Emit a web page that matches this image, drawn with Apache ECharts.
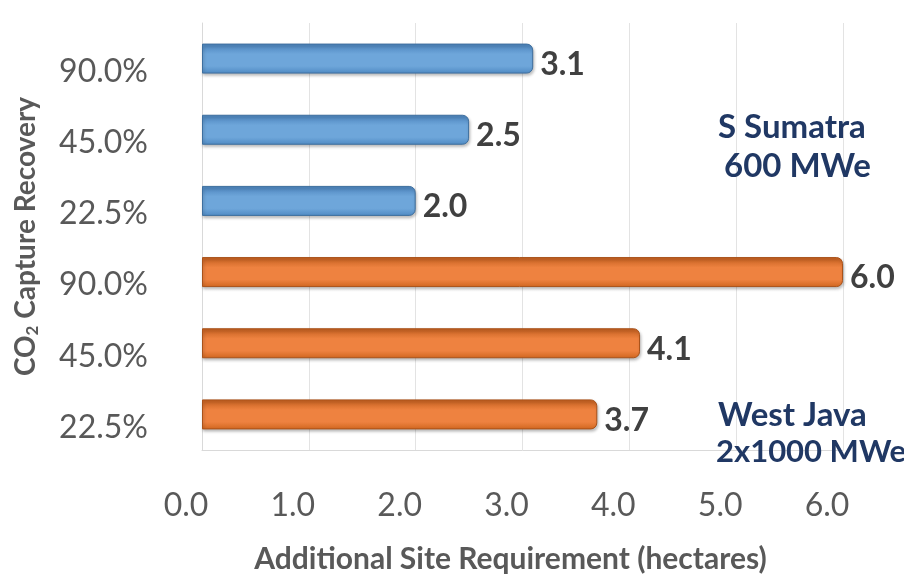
<!DOCTYPE html>
<html>
<head>
<meta charset="utf-8">
<script src="https://cdn.jsdelivr.net/npm/echarts@6/dist/echarts.min.js"></script>
<style>
html,body{margin:0;padding:0;background:#fff;}
#chart{width:904px;height:579px;}
</style>
</head>
<body>
<div id="chart"></div>
<script>
// Categories bottom -> top (West Java first, then S Sumatra)
const categories = ['22.5%', '45.0%', '90.0%', '22.5%', '45.0%', '90.0%'];
const westJava = [3.7, 4.1, 6.0, null, null, null];
const sSumatra = [null, null, null, 2.0, 2.5, 3.1];
const xTicks = [0, 1, 2, 3, 4, 5, 6];

const FONT = 'Lato, "Open Sans", sans-serif';

const chart = echarts.init(document.getElementById('chart'), null, {renderer: 'canvas'});

function barStyle(top, mid, bot, border) {
  return {
    color: new echarts.graphic.LinearGradient(0, 0, 0, 1, [
      {offset: 0, color: top},
      {offset: 0.35, color: mid},
      {offset: 0.75, color: mid},
      {offset: 1, color: bot}
    ]),
    borderColor: border,
    borderWidth: 1,
    borderRadius: [0, 6, 6, 0],
    shadowColor: 'rgba(0,0,0,0.25)',
    shadowBlur: 3,
    shadowOffsetX: 1,
    shadowOffsetY: 2
  };
}

const labelCfg = {
  show: true,
  position: 'right',
  distance: 7,
  offset: [0, 6],
  fontFamily: FONT,
  fontSize: 32,
  fontWeight: 'bold',
  color: '#404040',
  formatter: p => (p.value == null ? '' : Number(p.value).toFixed(1))
};

const option = {
  backgroundColor: '#ffffff',
  animation: false,
  grid: {left: 202, top: 23, width: 641, height: 434, containLabel: false},
  xAxis: {
    type: 'value',
    min: 0,
    max: 6,
    interval: 1,
    axisLine: {show: true, lineStyle: {color: '#D9D9D9'}},
    axisTick: {show: false},
    splitLine: {show: true, lineStyle: {color: '#E3E3E3', width: 1}},
    axisLabel: {
      fontFamily: FONT,
      fontSize: 32,
      color: '#595959',
      margin: 40,
      padding: [0, 32, 0, 0],
      formatter: v => xTicks.indexOf(v) >= 0 ? v.toFixed(1) : ''
    },
    name: 'Additional Site Requirement (hectares)',
    nameLocation: 'middle',
    nameGap: 94,
    nameTextStyle: {
      fontFamily: FONT,
      fontSize: 30,
      fontWeight: 'bold',
      color: '#595959',
      padding: [0, 24, 0, 0]
    }
  },
  yAxis: {
    type: 'category',
    data: categories,
    axisLine: {show: true, lineStyle: {color: '#D9D9D9'}},
    axisTick: {show: false},
    splitLine: {show: false},
    axisLabel: {
      fontFamily: FONT,
      fontSize: 32,
      color: '#595959',
      margin: 54,
      verticalAlign: 'top',
      lineHeight: 26
    },
    name: '{a|CO}{s|2}{a| Capture Recovery}',
    nameLocation: 'middle',
    nameRotate: 90,
    nameGap: 161,
    nameTextStyle: {
      rich: {
        a: {fontFamily: FONT, fontSize: 28, fontWeight: 'bold', color: '#595959'},
        s: {fontFamily: FONT, fontSize: 17, fontWeight: 'bold', color: '#595959', verticalAlign: 'bottom', padding: [14, 0, 0, 0]}
      }
    }
  },
  series: [
    {
      name: 'West Java 2x1000 MWe',
      type: 'bar',
      data: westJava,
      barWidth: 30,
      barGap: '-100%',
      itemStyle: barStyle('#C25E1E', '#EE8240', '#D0661F', '#A9521A'),
      label: labelCfg
    },
    {
      name: 'S Sumatra 600 MWe',
      type: 'bar',
      data: sSumatra,
      barWidth: 30,
      barGap: '-100%',
      itemStyle: barStyle('#4A82BB', '#6EA6DA', '#4F8AC3', '#3E6F9F'),
      label: labelCfg
    }
  ],
  graphic: [
    {type: 'text', left: 718, top: 111, z: 100, style: {text: 'S Sumatra', font: 'bold 33px ' + FONT, fill: '#203864'}},
    {type: 'text', left: 724, top: 150, z: 100, style: {text: '600 MWe', font: 'bold 33px ' + FONT, fill: '#203864'}},
    {type: 'text', left: 718, top: 399, z: 100, style: {text: 'West Java', font: 'bold 33px ' + FONT, fill: '#203864'}},
    {type: 'text', left: 716, top: 436, z: 100, style: {text: '2x1000 MWe', font: 'bold 31px ' + FONT, fill: '#203864'}}
  ]
};

chart.setOption(option);
</script>
</body>
</html>
